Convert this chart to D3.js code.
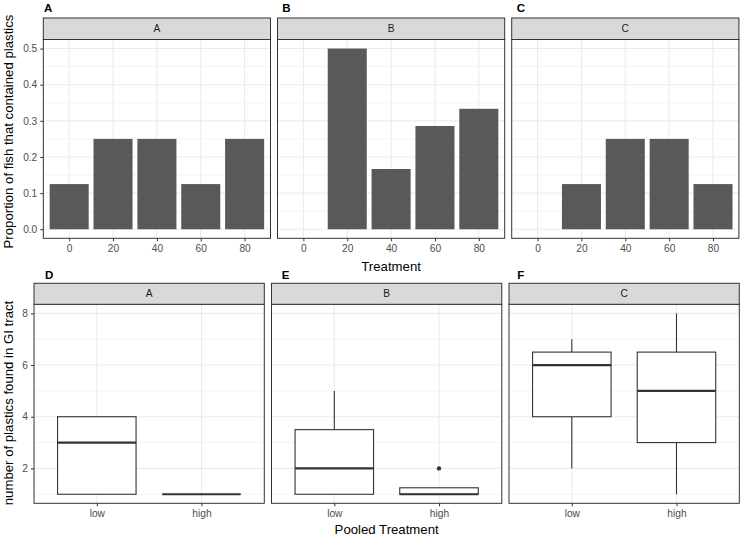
<!DOCTYPE html>
<html><head><meta charset="utf-8">
<script src="https://cdn.jsdelivr.net/npm/d3@7"></script>
<style>
body{margin:0;background:#fff;}
svg{display:block;font-family:"Liberation Sans",Arial,sans-serif;}
</style></head>
<body><svg id="chart" width="741" height="538"></svg>
<script>
// ---------- data ----------
const facets = ["A", "B", "C"];
const treatments = [0, 20, 40, 60, 80];
const propA = [0.125, 0.25, 0.25, 0.125, 0.25];
const propB = [0, 0.5, 0.1667, 0.2857, 0.3333];
const propC = [0, 0.125, 0.25, 0.25, 0.125];
const propTicks = [0, 0.1, 0.2, 0.3, 0.4, 0.5];
const topPanelLabels = ["A", "B", "C"];

const pooled = ["low", "high"];
// five-number summaries per pooled level: [lowerWhisker, q1, median, q3, upperWhisker]
const boxA = [[1, 1, 3, 4, 4], [1, 1, 1, 1, 1]];
const boxB = [[1, 1, 2, 3.5, 5], [1, 1, 1, 1.25, 1]];
const boxC = [[2, 4, 6, 6.5, 7], [1, 3, 5, 6.5, 8]];
const outA = [[], []];
const outB = [[], [2]];
const outC = [[], []];
const countTicks = [2, 4, 6, 8];
const bottomPanelLabels = ["D", "E", "F"];

// ---------- styling ----------
const svg = d3.select("#chart");
const C_BORDER = "#333333", C_GRID = "#EBEBEB", C_STRIP = "#D9D9D9", C_BAR = "#595959";
const C_TICK = "#4D4D4D";
const TICK_FS = 10.2, TITLE_FS = 13.2, STRIP_FS = 10.2;
const topTagX = [44, 282.3, 516.7];
const botTagX = [45, 281.7, 517.3];

function panelFrame(g, x0, y0, w, stripH, label) {
  g.append("rect").attr("x", x0).attr("y", y0 - stripH).attr("width", w).attr("height", stripH)
    .attr("fill", C_STRIP).attr("stroke", C_BORDER).attr("stroke-width", 1);
  g.append("text").attr("x", x0 + w / 2).attr("y", y0 - stripH / 2 + 3.6)
    .attr("text-anchor", "middle").attr("font-size", STRIP_FS).attr("fill", "#1A1A1A").text(label);
}
function styleAxis(g) {
  g.select(".domain").remove();
  g.selectAll("line").attr("stroke", C_BORDER);
  g.selectAll("text").attr("font-size", TICK_FS).attr("fill", C_TICK).attr("font-family", "Liberation Sans, Arial, sans-serif");
}

// ---------- top row: bar charts ----------
const topY0 = 39.5, topY1 = 238.3, topStrip = 21.5;
const topLeft = 43.3, topW = 227.2, topGap = 7;
const yTop = d3.scaleLinear().domain([-0.025, 0.525]).range([topY1, topY0]);
const propData = [propA, propB, propC];
const barWidth = 17.8;

facets.forEach((f, i) => {
  const x0 = topLeft + i * (topW + topGap), x1 = x0 + topW;
  const x = d3.scaleLinear().domain([-11.8, 91.8]).range([x0, x1]);
  const g = svg.append("g");
  g.append("rect").attr("x", x0).attr("y", topY0).attr("width", topW).attr("height", topY1 - topY0).attr("fill", "#fff");
  const minor = [0.05, 0.15, 0.25, 0.35, 0.45];
  g.selectAll(".ymin").data(minor).join("line")
    .attr("x1", x0).attr("x2", x1).attr("y1", d => yTop(d)).attr("y2", d => yTop(d))
    .attr("stroke", C_GRID).attr("stroke-width", 0.6);
  g.selectAll(".ymaj").data(propTicks).join("line")
    .attr("x1", x0).attr("x2", x1).attr("y1", d => yTop(d)).attr("y2", d => yTop(d))
    .attr("stroke", C_GRID).attr("stroke-width", 1.1);
  g.selectAll(".xmaj").data(treatments).join("line")
    .attr("x1", d => x(d)).attr("x2", d => x(d)).attr("y1", topY0).attr("y2", topY1)
    .attr("stroke", C_GRID).attr("stroke-width", 1.1);
  g.selectAll(".bar").data(treatments.map((t, k) => ({ t, v: propData[i][k] }))).join("rect")
    .attr("x", d => x(d.t - barWidth / 2)).attr("width", d => x(d.t + barWidth / 2) - x(d.t - barWidth / 2))
    .attr("y", d => yTop(d.v)).attr("height", d => yTop(0) - yTop(d.v))
    .attr("fill", C_BAR);
  g.append("rect").attr("x", x0).attr("y", topY0).attr("width", topW).attr("height", topY1 - topY0)
    .attr("fill", "none").attr("stroke", C_BORDER).attr("stroke-width", 1);
  panelFrame(g, x0, topY0, topW, topStrip, f);
  const ax = d3.axisBottom(x).tickValues(treatments).tickSize(3).tickPadding(3).tickFormat(d3.format("d"));
  styleAxis(svg.append("g").attr("transform", `translate(0,${topY1})`).call(ax));
  svg.append("text").attr("x", topTagX[i]).attr("y", 12).attr("font-weight", "bold")
    .attr("font-size", 11.5).text(topPanelLabels[i]);
});
styleAxis(svg.append("g").attr("transform", `translate(${topLeft},0)`)
  .call(d3.axisLeft(yTop).tickValues(propTicks).tickSize(3).tickPadding(3).tickFormat(d3.format(".1f"))));
svg.append("text").attr("x", (topLeft + topLeft + 3 * topW + 2 * topGap) / 2).attr("y", 270.5)
  .attr("text-anchor", "middle").attr("font-size", TITLE_FS).text("Treatment");
svg.append("text").attr("transform", `translate(12.8,131.5) rotate(-90)`)
  .attr("text-anchor", "middle").attr("font-size", TITLE_FS).text("Proportion of fish that contained plastics");

// ---------- bottom row: boxplots ----------
const botY0 = 304.3, botY1 = 503.3, botStrip = 21;
const botLeft = 34, botW = 230.3, botGap = 7.2;
const yBot = d3.scaleLinear().domain([0.65, 8.35]).range([botY1, botY0]);
const boxData = [boxA, boxB, boxC];
const outData = [outA, outB, outC];
const boxW = 0.75;

facets.forEach((f, i) => {
  const x0 = botLeft + i * (botW + botGap), x1 = x0 + botW;
  const x = d3.scaleLinear().domain([0.4, 2.6]).range([x0, x1]);
  const g = svg.append("g");
  g.append("rect").attr("x", x0).attr("y", botY0).attr("width", botW).attr("height", botY1 - botY0).attr("fill", "#fff");
  const minor = [1, 3, 5, 7];
  g.selectAll(".ymin").data(minor).join("line")
    .attr("x1", x0).attr("x2", x1).attr("y1", d => yBot(d)).attr("y2", d => yBot(d))
    .attr("stroke", C_GRID).attr("stroke-width", 0.6);
  g.selectAll(".ymaj").data(countTicks).join("line")
    .attr("x1", x0).attr("x2", x1).attr("y1", d => yBot(d)).attr("y2", d => yBot(d))
    .attr("stroke", C_GRID).attr("stroke-width", 1.1);
  g.selectAll(".xmaj").data([1, 2]).join("line")
    .attr("x1", d => x(d)).attr("x2", d => x(d)).attr("y1", botY0).attr("y2", botY1)
    .attr("stroke", C_GRID).attr("stroke-width", 1.1);
  boxData[i].forEach((s, k) => {
    const cx = x(k + 1), xl = x(k + 1 - boxW / 2), xr = x(k + 1 + boxW / 2);
    const [lo, q1, med, q3, hi] = s;
    g.append("line").attr("x1", cx).attr("x2", cx).attr("y1", yBot(q3)).attr("y2", yBot(hi))
      .attr("stroke", C_BORDER).attr("stroke-width", 1.1);
    g.append("line").attr("x1", cx).attr("x2", cx).attr("y1", yBot(q1)).attr("y2", yBot(lo))
      .attr("stroke", C_BORDER).attr("stroke-width", 1.1);
    g.append("rect").attr("x", xl).attr("width", xr - xl).attr("y", yBot(q3)).attr("height", yBot(q1) - yBot(q3))
      .attr("fill", "#fff").attr("stroke", C_BORDER).attr("stroke-width", 1.1);
    g.append("line").attr("x1", xl).attr("x2", xr).attr("y1", yBot(med)).attr("y2", yBot(med))
      .attr("stroke", C_BORDER).attr("stroke-width", 2.2);
    g.selectAll(null).data(outData[i][k]).join("circle")
      .attr("cx", cx).attr("cy", d => yBot(d)).attr("r", 2.2).attr("fill", C_BORDER);
  });
  g.append("rect").attr("x", x0).attr("y", botY0).attr("width", botW).attr("height", botY1 - botY0)
    .attr("fill", "none").attr("stroke", C_BORDER).attr("stroke-width", 1);
  panelFrame(g, x0, botY0, botW, botStrip, f);
  const ax = d3.axisBottom(x).tickValues([1, 2]).tickSize(3).tickPadding(3).tickFormat(d => pooled[d - 1]);
  styleAxis(svg.append("g").attr("transform", `translate(0,${botY1})`).call(ax));
  svg.append("text").attr("x", botTagX[i]).attr("y", 279.3).attr("font-weight", "bold")
    .attr("font-size", 11.5).text(bottomPanelLabels[i]);
});
styleAxis(svg.append("g").attr("transform", `translate(${botLeft},0)`)
  .call(d3.axisLeft(yBot).tickValues(countTicks).tickSize(3).tickPadding(3).tickFormat(d3.format("d"))));
svg.append("text").attr("x", (botLeft + botLeft + 3 * botW + 2 * botGap) / 2).attr("y", 534)
  .attr("text-anchor", "middle").attr("font-size", TITLE_FS).text("Pooled Treatment");
svg.append("text").attr("transform", `translate(12.8,403) rotate(-90)`)
  .attr("text-anchor", "middle").attr("font-size", TITLE_FS).text("number of plastics found in GI tract");
</script></body></html>
